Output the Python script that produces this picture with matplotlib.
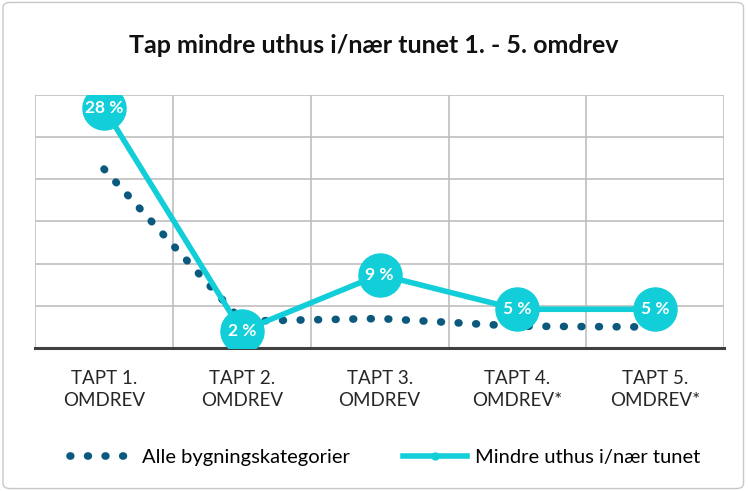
import matplotlib.pyplot as plt
from matplotlib.patches import FancyBboxPatch

plt.rcParams['font.family'] = ['Lato', 'DejaVu Sans']

categories = ["TAPT 1.\nOMDREV", "TAPT 2.\nOMDREV", "TAPT 3.\nOMDREV",
              "TAPT 4.\nOMDREV*", "TAPT 5.\nOMDREV*"]
alle = [21.2, 3.2, 3.5, 2.6, 2.5]
uthus = [28.4, 2.0, 8.7, 4.6, 4.6]

dark = "#0B5A7E"
cyan = "#12CED8"

fig = plt.figure(figsize=(7.48, 4.91), dpi=100)
fig.patches.append(FancyBboxPatch((0.004, 0.005), 0.99, 0.99, boxstyle="round,pad=0,rounding_size=0.01",
                                  transform=fig.transFigure, fill=False, edgecolor="#C8C8C8", linewidth=1))

ax = fig.add_axes([0.047, 0.291, 0.921, 0.516])
x = list(range(1, len(categories) + 1))

ax.plot(x, alle, linestyle=(0, (0.1, 2.2)), dash_capstyle="round", linewidth=5.5,
        color=dark, label="Alle bygningskategorier", zorder=3)
ax.plot(x, uthus, color=cyan, linewidth=4, marker="o", markersize=31,
        label="Mindre uthus i/nær tunet", zorder=4)
for xi, v in zip(x, uthus):
    ax.text(xi, v, f"{v:.0f} %", color="white", fontsize=12.5, fontweight="bold",
            ha="center", va="center", zorder=5)

ax.set_xlim(0.5, 5.5)
ax.set_ylim(0, 30)
ax.set_yticks(range(0, 31, 5))
ax.set_yticklabels([])
ax.set_xticks(x)
ax.set_xticklabels(categories, fontsize=13.5, color="#262626", linespacing=1.3)
ax.set_xticks([i + 0.5 for i in range(0, 6)], minor=True)
ax.tick_params(axis="both", length=0, pad=16)
ax.tick_params(axis="x", which="minor", length=0)
ax.grid(True, axis="y", color="#BFBFBF", linewidth=1.2)
ax.grid(True, axis="x", which="minor", color="#BFBFBF", linewidth=1.2)
ax.grid(False, axis="x", which="major")
for s in ["top", "right", "left"]:
    ax.spines[s].set_visible(False)
ax.spines["bottom"].set_color("#404040")
ax.spines["bottom"].set_linewidth(2.2)
ax.set_axisbelow(True)

fig.text(0.5, 0.908, "Tap mindre uthus i/nær tunet 1. - 5. omdrev", ha="center", va="center",
         fontsize=18, fontweight="bold", color="#111111")

handles, labels = ax.get_legend_handles_labels()
leg = fig.legend(handles, labels, loc="center", bbox_to_anchor=(0.515, 0.068), ncol=2, frameon=False,
                 fontsize=14.5, handlelength=3.2, columnspacing=2.6, handletextpad=0.4)
leg.legend_handles[1].set_markersize(5)

fig.savefig("out.png", dpi=100)
